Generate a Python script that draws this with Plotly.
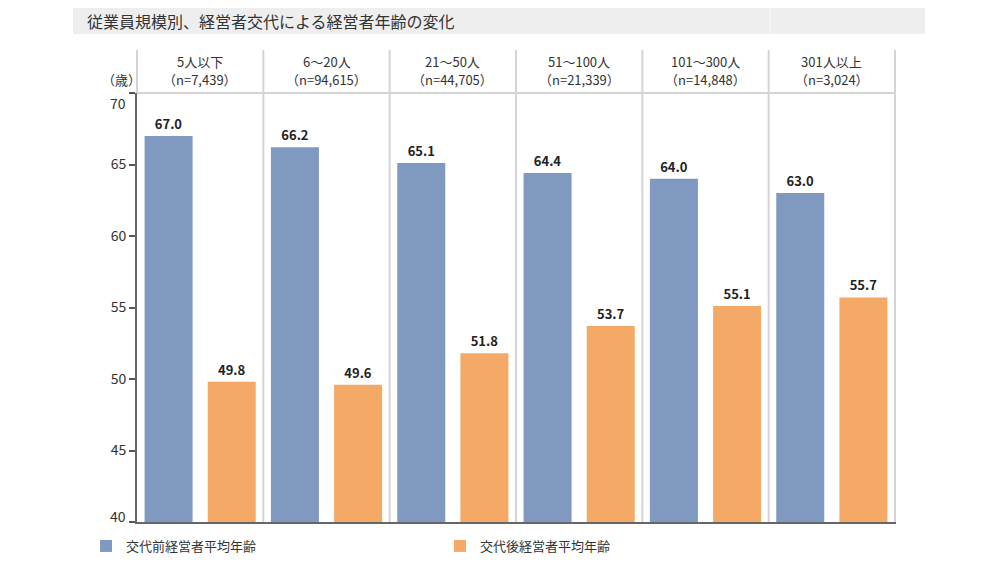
import plotly.graph_objects as go

categories = ["5人以下", "6～20人", "21～50人", "51～100人", "101～300人", "301人以上"]
sample_sizes = ["n=7,439", "n=94,615", "n=44,705", "n=21,339", "n=14,848", "n=3,024"]
before_age = [67.0, 66.2, 65.1, 64.4, 64.0, 63.0]
after_age = [49.8, 49.6, 51.8, 53.7, 55.1, 55.7]
series_names = ["交代前経営者平均年齢", "交代後経営者平均年齢"]
title_text = "従業員規模別、経営者交代による経営者年齢の変化"
y_ticks = [40, 45, 50, 55, 60, 65, 70]

FONT = "Noto Sans CJK JP, Noto Sans, sans-serif"
BLUE = "#8099C0"
ORANGE = "#F4AA66"

# the page body adds an 8px margin; work in page pixels and shift
OFF = 8
FIG_W, FIG_H = 1000 - OFF, 563 - OFF
L, R, T, B = 137 - OFF, 896 - OFF, 93 - OFF, 522 - OFF
W, H = R - L, B - T


def px_x(p):
    return (p - OFF - L) / W


def px_y(p):
    return (B - (p - OFF)) / H


fig = go.Figure()
for name, vals, col in [(series_names[0], before_age, BLUE), (series_names[1], after_age, ORANGE)]:
    fig.add_trace(go.Bar(
        x=categories, y=vals, name=name,
        marker=dict(color=col, line=dict(width=0)),
        texttemplate="<b>%{y:.1f}</b>", textposition="outside",
        textfont=dict(size=13, color="#222", family=FONT),
        cliponaxis=False,
    ))

shapes = []
# title bar
shapes.append(dict(type="rect", xref="paper", yref="paper",
                   x0=px_x(73), x1=px_x(925), y0=px_y(34), y1=px_y(7),
                   fillcolor="#EEEEEE", line=dict(width=0), layer="below"))
shapes.append(dict(type="line", xref="paper", yref="paper",
                   x0=px_x(770), x1=px_x(770), y0=px_y(34), y1=px_y(7),
                   line=dict(color="#F8F8F8", width=1)))
# left border above axis
shapes.append(dict(type="line", xref="paper", yref="paper",
                   x0=0, x1=0, y0=1, y1=px_y(50),
                   line=dict(color="#D4D4D4", width=2), layer="below"))
# column separators
for i in range(len(categories)):
    shapes.append(dict(type="line", xref="x", yref="paper",
                       x0=i + 0.5, x1=i + 0.5, y0=0, y1=px_y(50),
                       line=dict(color="#D4D4D4", width=2), layer="below"))
# top line of plot
shapes.append(dict(type="line", xref="paper", yref="paper",
                   x0=0, x1=1, y0=1, y1=1,
                   line=dict(color="#D4D4D4", width=2), layer="below"))

annotations = [dict(xref="paper", yref="paper", x=px_x(85), y=px_y(21),
                    xanchor="left", yanchor="middle", showarrow=False,
                    text=title_text, font=dict(size=16, color="#333", family=FONT))]
for c, n in zip(categories, sample_sizes):
    annotations.append(dict(xref="x", yref="paper", x=c, y=px_y(61),
                            xanchor="center", yanchor="middle", showarrow=False,
                            text=c, font=dict(size=13, color="#333", family=FONT)))
    annotations.append(dict(xref="x", yref="paper", x=c, y=px_y(79),
                            xanchor="center", yanchor="middle", showarrow=False,
                            text=f"（{n}）", font=dict(size=13, color="#333", family=FONT)))
annotations.append(dict(xref="paper", yref="paper", x=px_x(121), y=px_y(79),
                        xanchor="center", yanchor="middle", showarrow=False,
                        text="（歳）", font=dict(size=13, color="#333", family=FONT)))
# end tick labels nudged inward as in the reference
for v, shift in [(y_ticks[-1], -10), (y_ticks[0], 6)]:
    annotations.append(dict(xref="paper", yref="y", x=px_x(128), y=v, yshift=shift,
                            xanchor="right", yanchor="middle", showarrow=False,
                            text=str(v), font=dict(size=14, color="#333", family=FONT)))

tick_text = ["" if v in (y_ticks[0], y_ticks[-1]) else str(v) for v in y_ticks]

fig.update_layout(
    width=FIG_W, height=FIG_H,
    margin=dict(l=L, r=FIG_W - R, t=T, b=FIG_H - B, autoexpand=False),
    paper_bgcolor="white", plot_bgcolor="white",
    barmode="group", bargap=0.0, bargroupgap=0.24,
    font=dict(family=FONT, color="#333"),
    shapes=shapes, annotations=annotations,
    xaxis=dict(showticklabels=False, showgrid=False, ticks="",
               showline=True, linecolor="#666", linewidth=2, fixedrange=True),
    yaxis=dict(range=[40, 70], tickvals=y_ticks, ticktext=tick_text,
               showgrid=False, zeroline=False,
               showline=True, linecolor="#666", linewidth=2,
               ticks="outside", ticklen=6, tickwidth=2, tickcolor="#555",
               tickfont=dict(size=14, color="#333", family=FONT)),
    legend=dict(orientation="h", x=px_x(86), y=px_y(546), xanchor="left", yanchor="middle",
                entrywidth=309, font=dict(size=13, color="#333", family=FONT),
                itemsizing="constant", traceorder="normal"),
    showlegend=True,
)

fig.write_html("out.html")
